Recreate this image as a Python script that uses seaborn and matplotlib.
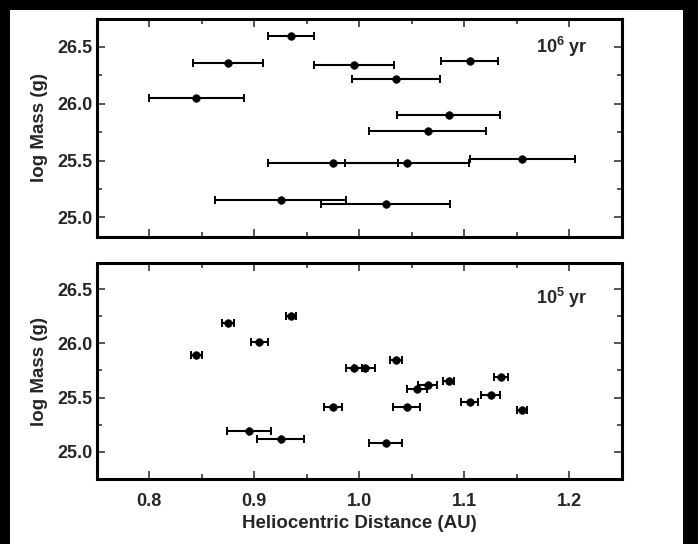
import matplotlib
matplotlib.use("Agg")
import matplotlib.pyplot as plt
from matplotlib.patches import Rectangle
from matplotlib.ticker import MultipleLocator, FormatStrFormatter
import seaborn as sns

# --- data ------------------------------------------------------------------
# top panel: 10^6 yr
dist_6 = [0.935, 0.875, 0.995, 1.035, 0.845, 1.105, 1.085, 1.065, 0.975, 1.045, 1.155, 0.925, 1.025]
mass_6 = [26.60, 26.36, 26.34, 26.22, 26.05, 26.38, 25.90, 25.76, 25.48, 25.48, 25.51, 25.15, 25.12]
err_6 = [0.022, 0.033, 0.038, 0.042, 0.045, 0.027, 0.049, 0.056, 0.062, 0.059, 0.050, 0.062, 0.061]

# bottom panel: 10^5 yr
dist_5 = [0.845, 0.875, 0.935, 0.905, 0.995, 1.005, 0.975, 0.895, 0.925, 1.025,
          1.035, 1.065, 1.055, 1.045, 1.085, 1.135, 1.105, 1.125, 1.155]
mass_5 = [25.89, 26.19, 26.25, 26.01, 25.77, 25.77, 25.41, 25.19, 25.12, 25.08,
          25.85, 25.62, 25.58, 25.41, 25.65, 25.69, 25.46, 25.52, 25.39]
err_5 = [0.005, 0.0055, 0.0045, 0.008, 0.008, 0.010, 0.0085, 0.021, 0.022, 0.016,
         0.006, 0.009, 0.0095, 0.013, 0.005, 0.0063, 0.0078, 0.009, 0.005]

labels = ["10$^{6}$ yr", "10$^{5}$ yr"]

# --- style ------------------------------------------------------------------
sns.set_style("ticks")
plt.rcParams["font.family"] = ["Liberation Sans", "DejaVu Sans"]
plt.rcParams["font.weight"] = "bold"
plt.rcParams["mathtext.fontset"] = "custom"
plt.rcParams["mathtext.rm"] = "Liberation Sans:bold"
plt.rcParams["mathtext.default"] = "rm"

fig = plt.figure(figsize=(6.98, 5.44), dpi=100)
fig.patch.set_facecolor("black")
# white page inside the black border of the scan
page = Rectangle((10 / 698, 0), 673 / 698, 534 / 544,
                 transform=fig.transFigure, facecolor="white",
                 edgecolor="none", zorder=-10)
fig.add_artist(page)

ax_top = fig.add_axes([0.1385, 0.565, 0.7525, 0.400])
ax_bot = fig.add_axes([0.1385, 0.1195, 0.7525, 0.397])

panels = [
    (ax_top, dist_6, mass_6, err_6, (24.83, 26.745), 0.871),
    (ax_bot, dist_5, mass_5, err_5, (24.75, 26.74), 0.838),
]

for (ax, x, y, e, ylim, ty), lab in zip(panels, labels):
    ax.errorbar(x, y, xerr=e, fmt="none", ecolor="black",
                elinewidth=1.5, capsize=3.2, capthick=1.4, zorder=2)
    sns.scatterplot(x=x, y=y, ax=ax, color="black", s=30,
                    edgecolor="black", linewidth=0.5, zorder=3)
    ax.set_xlim(0.75, 1.25)
    ax.set_ylim(*ylim)
    ax.xaxis.set_major_locator(MultipleLocator(0.1))
    ax.xaxis.set_minor_locator(MultipleLocator(0.05))
    ax.yaxis.set_major_locator(MultipleLocator(0.5))
    ax.yaxis.set_minor_locator(MultipleLocator(0.25))
    ax.tick_params(which="both", direction="in", top=True, right=True,
                   width=1.1, labelsize=13)
    ax.tick_params(which="major", length=6)
    ax.tick_params(which="minor", length=3.5)
    ax.tick_params(axis="y", pad=3)
    ax.tick_params(axis="x", pad=10)
    ax.yaxis.set_major_formatter(FormatStrFormatter("%.1f"))
    ax.xaxis.set_major_formatter(FormatStrFormatter("%.1f"))
    for sp in ax.spines.values():
        sp.set_linewidth(2.2)
        sp.set_color("black")
    ax.set_ylabel("log Mass (g)", fontsize=13.5, fontweight="bold", labelpad=7)
    ax.text(0.935, ty, lab, transform=ax.transAxes, ha="right", va="center",
            fontsize=13, fontweight="bold")

ax_top.tick_params(axis="x", labelbottom=False)
ax_top.set_xlabel("")
ax_bot.set_xlabel("Heliocentric Distance (AU)", fontsize=13.5,
                  fontweight="bold", labelpad=4)

fig.savefig("out.png", dpi=100, facecolor=fig.get_facecolor())
